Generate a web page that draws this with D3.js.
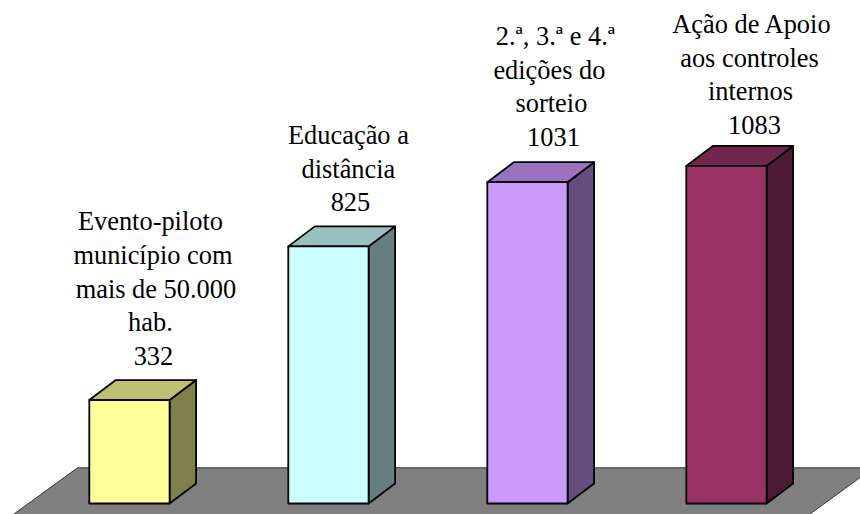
<!DOCTYPE html>
<html>
<head>
<meta charset="utf-8">
<script src="https://cdn.jsdelivr.net/npm/d3@7"></script>
<style>
html, body { margin: 0; padding: 0; background: #fff; }
svg { display: block; }
text { font-family: "Liberation Serif", serif; font-size: 26.4px; fill: #000; }
</style>
</head>
<body>
<svg id="chart" width="860" height="514"></svg>
<script>
var categories = [
	['Evento-piloto', 'município com', 'mais de 50.000', 'hab.'],
	['Educação a', 'distância'],
	['2.ª, 3.ª e 4.ª', 'edições do', 'sorteio'],
	['Ação de Apoio', 'aos controles', 'internos']
];
var values = [332, 825, 1031, 1083];
var frontColors = ['#ffff99', '#ccffff', '#cc99ff', '#993366'];

// the labels in the original are placed by hand, so each line sits a bit off centre
var labelShift = [
	[21, 23.5, 26.5, 21, 24],
	[20, 20, 22],
	[28, 22, 24, 26],
	[25, 23, 24, 28]
];
var labelGap = [15, 15, 16, 12];

var svg = d3.select('#chart');
var depthX = 26.5, depthY = 20, lineHeight = 33.7;

var x = d3.scaleBand()
	.domain(d3.range(values.length))
	.range([89.3, 766.6])
	.paddingInner(0.5965)
	.paddingOuter(0);

var y = d3.scaleLinear()
	.domain([0, 1200])
	.range([503.5, 129.5]);

function shade(i, k) {
	var c = d3.rgb(frontColors[i]);
	return d3.rgb(c.r * k, c.g * k, c.b * k);
}

// floor
svg.append('path')
	.attr('d', 'M77.5,467.8 L860,467.8 L860,477.6 L810,514 L14,514 Z')
	.attr('fill', '#808080')
	.attr('stroke', 'none');
svg.append('path')
	.attr('d', 'M14,514 L77.5,467.8 L860,467.8 M860,477.6 L810,514')
	.attr('fill', 'none')
	.attr('stroke', '#333')
	.attr('stroke-width', 1);

var bars = svg.selectAll('g.bar')
	.data(values)
	.enter().append('g')
	.attr('class', 'bar')
	.attr('stroke', '#000')
	.attr('stroke-width', 1.8)
	.attr('stroke-linejoin', 'round');

// side face
bars.append('path')
	.attr('fill', function(d, i) { return shade(i, 0.5); })
	.attr('d', function(d, i) {
		var r = x(i) + x.bandwidth();
		return 'M' + r + ',' + y(d) + 'L' + (r + depthX) + ',' + (y(d) - depthY) + 'L' + (r + depthX) + ',' + (y(0) - depthY) + 'L' + r + ',' + y(0) + 'Z';
	});

// top face
bars.append('path')
	.attr('fill', function(d, i) { return shade(i, 0.75); })
	.attr('d', function(d, i) {
		var l = x(i), r = l + x.bandwidth();
		return 'M' + l + ',' + y(d) + 'L' + (l + depthX) + ',' + (y(d) - depthY) + 'L' + (r + depthX) + ',' + (y(d) - depthY) + 'L' + r + ',' + y(d) + 'Z';
	});

// front face
bars.append('rect')
	.attr('x', function(d, i) { return x(i); })
	.attr('y', function(d) { return y(d); })
	.attr('width', x.bandwidth())
	.attr('height', function(d) { return y(0) - y(d); })
	.attr('fill', function(d, i) { return frontColors[i]; });

// labels, value goes on the last line
values.forEach(function(v, i) {
	var lines = categories[i].concat([String(v)]);
	var base = y(v) - depthY - labelGap[i];
	var cx = x(i) + x.bandwidth() / 2;
	svg.selectAll(null)
		.data(lines)
		.enter().append('text')
		.attr('text-anchor', 'middle')
		.attr('x', function(d, j) { return cx + labelShift[i][j]; })
		.attr('y', function(d, j) { return base - (lines.length - 1 - j) * lineHeight; })
		.text(function(d) { return d; });
});
</script>
</body>
</html>
